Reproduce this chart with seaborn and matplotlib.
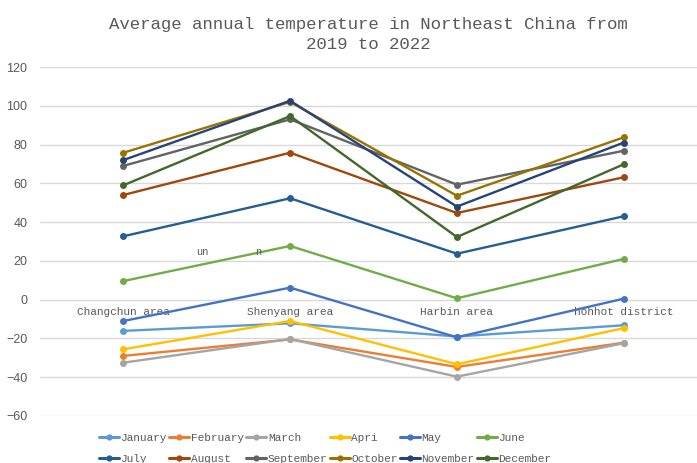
import matplotlib
matplotlib.use("Agg")
import matplotlib.pyplot as plt
from matplotlib.lines import Line2D
import seaborn as sns
import pandas as pd

regions = ["Changchun area", "Shenyang area", "Harbin area", "hohhot district"]
months = ["January", "February", "March", "Apri", "May", "June",
          "July", "August", "September", "October", "November", "December"]

january = [-16.1, -12.2, -19.0, -13.2]
february = [-29.0, -20.5, -34.7, -22.2]
march = [-32.5, -20.3, -39.7, -22.5]
april = [-25.6, -11.0, -33.3, -14.7]
may = [-11.0, 6.2, -19.4, 0.5]
june = [9.6, 27.7, 0.7, 21.0]
july = [32.7, 52.3, 23.7, 43.0]
august = [54.0, 75.8, 44.7, 63.1]
september = [69.0, 93.0, 59.3, 76.8]
october = [75.8, 102.0, 53.6, 83.7]
november = [72.0, 102.6, 48.0, 81.0]
december = [59.0, 94.7, 32.3, 69.8]

series = [january, february, march, april, may, june,
          july, august, september, october, november, december]

colors = ["#5B9BD5", "#ED7D31", "#A5A5A5", "#FFC000", "#4472C4", "#70AD47",
          "#255E91", "#9E480E", "#636363", "#997300", "#264478", "#43682B"]

rows = []
for m, vals in zip(months, series):
    for i, (r, v) in enumerate(zip(regions, vals)):
        rows.append({"month": m, "pos": i, "region": r, "temp": v})
df = pd.DataFrame(rows)

sns.set_theme(style="white")
mono = ["Liberation Mono", "DejaVu Sans Mono"]
text_color = "#595959"

fig = plt.figure(figsize=(6.97, 4.63), dpi=100)
ax = fig.add_axes([40 / 697, 1 - 416 / 463, 667 / 697, (416 - 67) / 463])

palette = dict(zip(months, colors))
sns.lineplot(data=df, x="pos", y="temp", hue="month", hue_order=months,
             palette=palette, marker="o", markersize=5, markeredgewidth=0,
             linewidth=1.7, sort=False, legend=False, ax=ax)

ax.set_xlim(-0.5, 3.5)
ax.set_ylim(-60, 120)
ax.set_yticks(range(-60, 121, 20))
ax.yaxis.grid(True, color="#D9D9D9", linewidth=1)
ax.set_axisbelow(True)
for side in ["top", "right", "left"]:
    ax.spines[side].set_visible(False)
ax.spines["bottom"].set_position(("data", 0))
ax.spines["bottom"].set_visible(False)
ax.set_xticks(range(len(regions)))
ax.set_xticklabels(regions, family=mono, fontsize=8, color=text_color)
ax.tick_params(axis="x", length=0, pad=5)
ax.tick_params(axis="y", length=0, pad=9, labelsize=9, labelcolor=text_color)
for lbl in ax.get_yticklabels():
    lbl.set_family(["Liberation Sans", "DejaVu Sans"])
ax.set_xlabel("")
ax.set_ylabel("")

fig.text(0.528, 1 - 34.5 / 463, "Average annual temperature in Northeast China from\n2019 to 2022",
         ha="center", va="center", family=mono, fontsize=12.5, color=text_color,
         linespacing=1.35)

# stray label fragments above the June line
fig.text(202 / 697, 1 - 252 / 463, "un", ha="center", va="center",
         family=mono, fontsize=7.5, color=text_color)
fig.text(258 / 697, 1 - 252 / 463, "n", ha="center", va="center",
         family=mono, fontsize=7.5, color=text_color)

# legend filled row by row: six entries per row
ncol = 6
handles = [Line2D([0], [0], color=c, linewidth=2.2, marker="o", markersize=4.5,
                  markeredgewidth=0) for c in colors]
order = [r * ncol + c for c in range(ncol) for r in range(2)]
fig.legend([handles[i] for i in order], [months[i] for i in order],
           loc="upper left", bbox_to_anchor=(99 / 697, 1 - 433 / 463),
           ncol=ncol, frameon=False, prop={"family": mono, "size": 8},
           labelcolor=text_color, handlelength=1.8, handletextpad=0.15,
           columnspacing=0.2, labelspacing=1.0, borderpad=0, borderaxespad=0)

fig.savefig("out.png", dpi=100)
